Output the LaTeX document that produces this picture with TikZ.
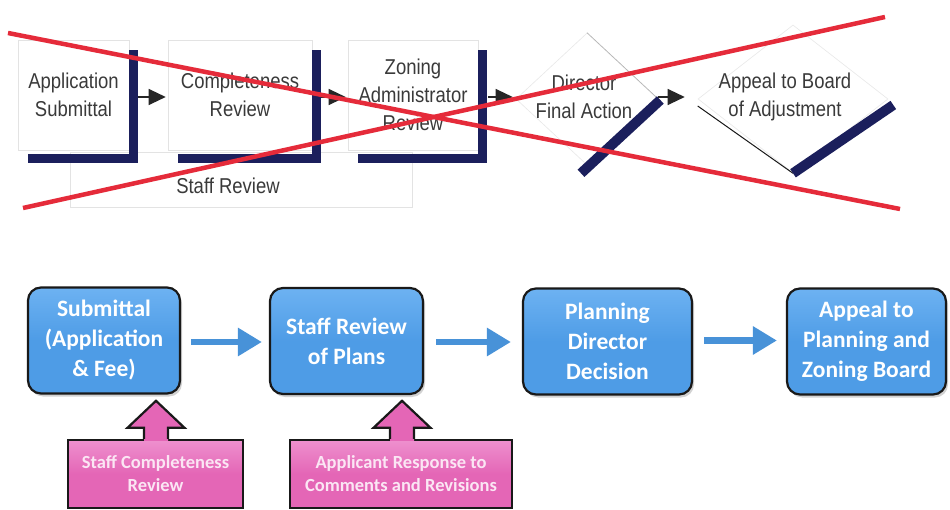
\documentclass[tikz,border=0pt]{standalone}
\usepackage{fontspec}
\setmainfont{Liberation Sans}
\newfontfamily\condfont[FakeStretch=0.86]{Liberation Sans}
\newfontfamily\calfont{Carlito}
\usetikzlibrary{arrows.meta,shapes.geometric,shadows,calc}
\definecolor{navybar}{HTML}{1B1F5C}
\definecolor{xred}{HTML}{E52B3A}
\definecolor{boxblue}{HTML}{4E9CE6}
\definecolor{boxbluetop}{HTML}{6DB2F2}
\definecolor{arrowblue}{HTML}{4892D8}
\definecolor{boxpink}{HTML}{E466B6}
\definecolor{boxpinktop}{HTML}{EE90CE}
\definecolor{pinktext}{HTML}{FBE6F4}
\definecolor{toptext}{HTML}{3A3A3A}
\begin{document}
\begin{tikzpicture}[x=1pt,y=-1pt,
  topbox/.style={draw=black!11, line width=0.6pt, minimum width=#1, minimum height=110,
    inner sep=0pt, font=\condfont\fontsize{21.5}{28}\selectfont, text=toptext, align=center},
  toplabel/.style={font=\condfont\fontsize{21.5}{28}\selectfont, text=toptext, align=center, inner sep=0pt},
  faint/.style={draw=black!9, line width=0.6pt},
  toparrow/.style={draw=black!85, line width=1.2pt, -{Triangle[length=17pt,width=16pt]}},
  navyline/.style={draw=navybar, line width=10pt},
  xline/.style={draw=xred, line width=4.5pt},
  bluebox/.style={draw=black!90, line width=2.2pt, rounded corners=13pt,
    top color=boxbluetop, bottom color=boxblue, middle color=boxblue,
    minimum width=#1, minimum height=106, inner sep=0pt, align=center,
    text=white, font=\calfont\bfseries\fontsize{23.5}{30}\selectfont,
    drop shadow={shadow xshift=2pt, shadow yshift=-3pt, opacity=0.35}},
  bluearrow/.style={draw=arrowblue, line width=6.5pt, -{Triangle[length=24pt,width=27pt]}},
  pinkbox/.style={draw=black!90, line width=2.4pt, top color=boxpinktop, bottom color=boxpink,
    middle color=boxpink, minimum width=#1, minimum height=68, inner sep=0pt, align=center,
    text=pinktext, font=\calfont\bfseries\fontsize{18.5}{23}\selectfont},
  pinkfill/.style={fill=boxpink},
  pinkedge/.style={draw=black!90, line width=2.2pt, line join=miter}
]
\useasboundingbox (0,0) rectangle (950,510);
\fill[white] (0,0) rectangle (950,510);

% ---------- old process (crossed out) ----------
\node[faint, draw=black!11, minimum width=342, minimum height=55, inner sep=0pt] (sr) at (241,179.5) {};
\node[toplabel] (srt) at (228,186) {Staff Review};

\node[topbox=111] (b1) at (73.5,95) {Application\\Submittal};
\node[topbox=144] (b2) at (240,95) {Completeness\\Review};
\node[topbox=130] (b3) at (413,95) {Zoning\\Administrator\\Review};

\foreach \b in {b1,b2,b3}{
  \fill[navybar] ($(\b.north east)+(0,10)$) rectangle ($(\b.south east)+(9,13)$);
  \fill[navybar] ($(\b.south west)+(10,4)$) rectangle ($(\b.south east)+(9,13)$);
}

\node[diamond, faint, minimum width=142, minimum height=132, inner sep=0pt] (d1) at (587,99) {};
\node[toplabel] (d1t) at (584,97) {Director\\Final Action};
\draw[draw=black!30, line width=0.6pt] (d1.north) -- (d1.east);
\fill[white] ($(d1.east)+(-1,0)$) -- ($(d1.south)+(0,0)$) -- ($(d1.south)+(-2,3)$) -- cycle;
\draw[navyline] ($(d1.east)+(2,1)$) -- ($(d1.south)+(-6,8)$);

\node[diamond, faint, minimum width=190, minimum height=148, inner sep=0pt] (d2) at (793,99) {};
\node[toplabel] (d2t) at (785,97) {Appeal to Board\\of Adjustment};
\draw[draw=black!90, line width=1pt] ($(d2.west)+(0,7)$) -- (d2.south);
\draw[navyline] ($(d2.south)+(0,0)$) -- ($(d2.east)+(5,6)$);

\draw[toparrow] ($(b1.east)+(9,2)$) -- ($(b2.west)+(-2,2)$);
\draw[toparrow] ($(b2.east)+(9,2)$) -- ($(b3.west)+(-2,2)$);
\draw[toparrow] ($(b3.east)+(10,2)$) -- ($(d1.west)+(-3,-2)$);
\draw[toparrow] ($(d1.east)+(0,-2)$) -- ($(d2.west)+(-13,-2)$);

\coordinate (x1s) at (8,33);
\coordinate (x1e) at (900,209);
\coordinate (x2s) at (23,208);
\coordinate (x2e) at (885,17);
\draw[xline] (x1s) -- (x1e);
\draw[xline] (x2s) -- (x2e);

% ---------- new process ----------
\node[bluebox=152] (B1) at (104,340.5) {Submittal\\(Application\\\&~Fee)};
\node[bluebox=153] (B2) at (346.5,341) {Staff Review\\of Plans};
\node[bluebox=169] (B3) at (607.5,341.5) {Planning\\Director\\Decision};
\node[bluebox=159] (B4) at (866.5,341.5) {Appeal to\\Planning and\\Zoning Board};

\draw[bluearrow, shorten <=10pt, shorten >=7pt] ($(B1.east)+(0,1.5)$) -- ($(B2.west)+(0,1)$);
\draw[bluearrow, shorten <=12pt, shorten >=11pt] ($(B2.east)+(0,1)$) -- ($(B3.west)+(0,0.5)$);
\draw[bluearrow, shorten <=11pt, shorten >=9pt] ($(B3.east)+(0,-1)$) -- ($(B4.west)+(0,-1)$);

\node[pinkbox=175] (P1) at (155.5,474) {Staff Completeness\\Review};
\node[pinkbox=222] (P2) at (401,474) {Applicant Response to\\Comments and Revisions};

\foreach \p/\dx in {P1/0.5,P2/1}{
  \coordinate (pa) at ($(\p.north)+(\dx,0)$);
  \fill[pinkfill] ($(pa)+(-12,2)$) -- ($(pa)+(-12,-11)$) -- ($(pa)+(-28.5,-11)$) -- ($(pa)+(0,-38)$)
     -- ($(pa)+(28.5,-11)$) -- ($(pa)+(12,-11)$) -- ($(pa)+(12,2)$) -- cycle;
  \draw[pinkedge] ($(pa)+(-12,0)$) -- ($(pa)+(-12,-11)$) -- ($(pa)+(-28.5,-11)$) -- ($(pa)+(0,-38)$)
     -- ($(pa)+(28.5,-11)$) -- ($(pa)+(12,-11)$) -- ($(pa)+(12,0)$);
}
\end{tikzpicture}
\end{document}
